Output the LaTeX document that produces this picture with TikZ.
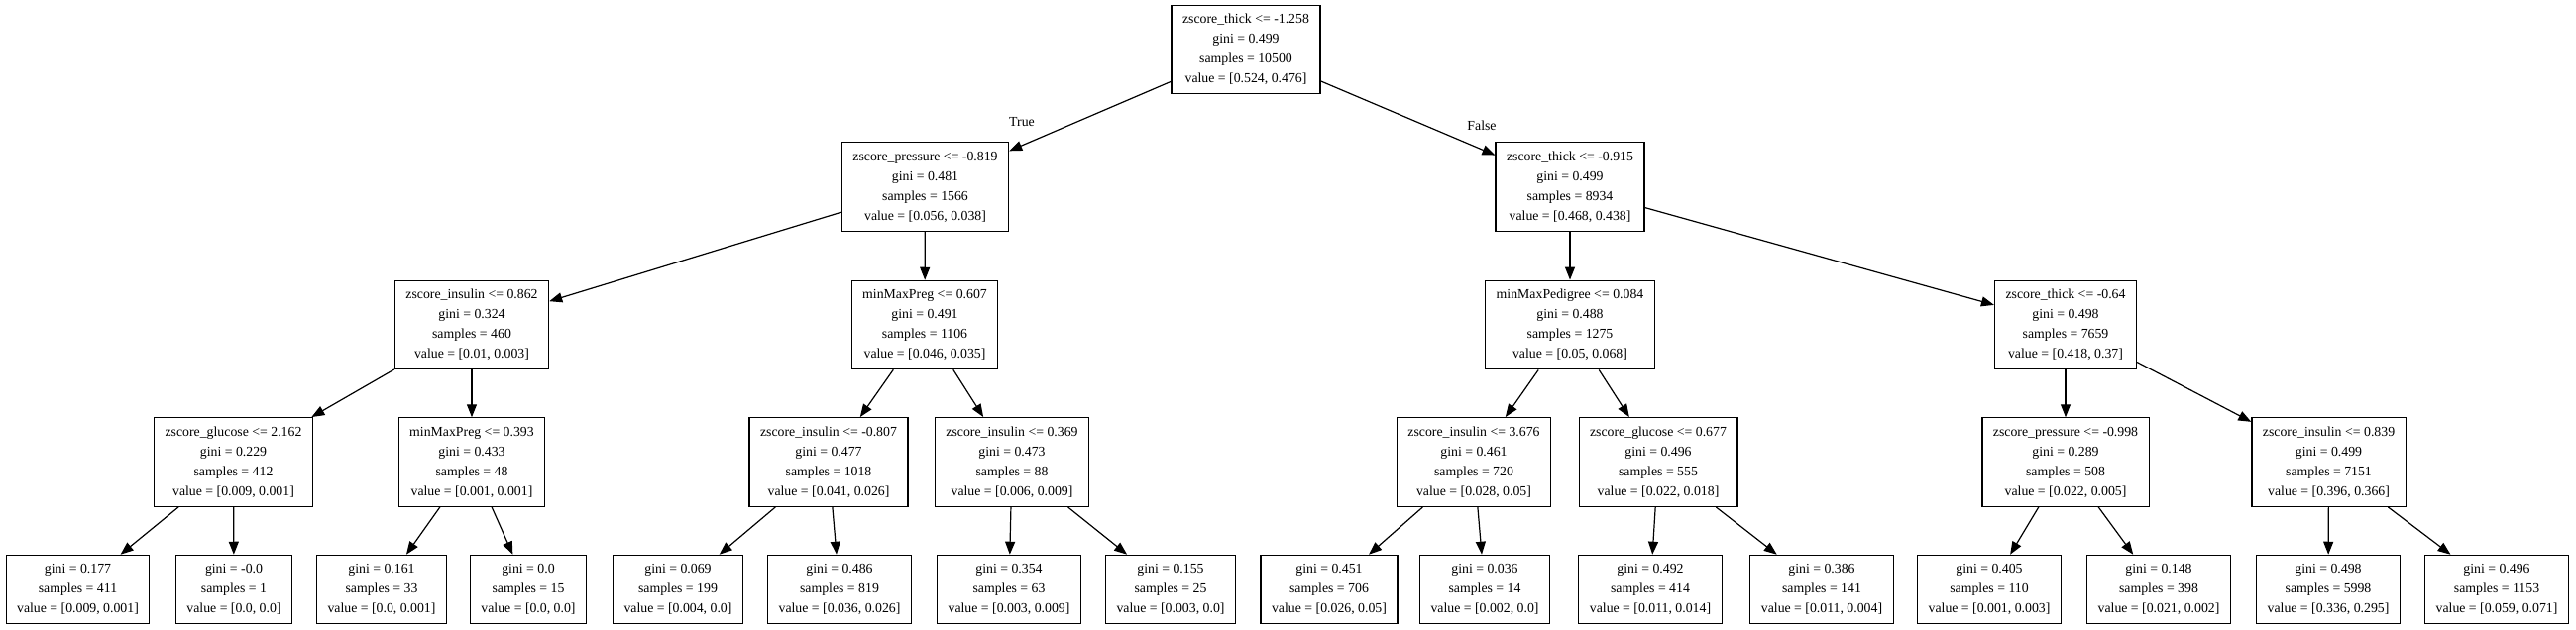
\documentclass[tikz,border=0pt]{standalone}
\usepackage{fontspec}
\setmainfont{Liberation Serif}
\usetikzlibrary{arrows.meta}

\begin{document}
\begin{tikzpicture}[
    x=1pt, y=-1pt,
    % Split node style
    splitbox/.style={
        rectangle,
        draw=black,
        line width=1.2pt,
        fill=white,
        align=center,
        inner xsep=11pt,
        inner ysep=9pt,
        font=\fontsize{13.8}{20}\selectfont
    },
    % Leaf node style
    leafbox/.style={
        splitbox
    },
    % Arrow style
    arrow/.style={
        -{Triangle[length=13pt, width=10pt]},
        line width=1.2pt,
        black
    },
    % Edge label style
    edgelabel/.style={
        font=\fontsize{13.8}{20}\selectfont
    }
]

\useasboundingbox (0,0) rectangle (2599,636);

% === Root ===
\node[splitbox] (root) at (1257,50) {zscore\_thick <= -1.258\\gini = 0.499\\samples = 10500\\value = [0.524, 0.476]};

% === Level 1 ===
\node[splitbox] (pressL) at (933.5,188.5) {zscore\_pressure <= -0.819\\gini = 0.481\\samples = 1566\\value = [0.056, 0.038]};
\node[splitbox] (thickR) at (1584,188.5) {zscore\_thick <= -0.915\\gini = 0.499\\samples = 8934\\value = [0.468, 0.438]};

% === Level 2 ===
\node[splitbox] (insulinA) at (476,328) {zscore\_insulin <= 0.862\\gini = 0.324\\samples = 460\\value = [0.01, 0.003]};
\node[splitbox] (pregA) at (933,328) {minMaxPreg <= 0.607\\gini = 0.491\\samples = 1106\\value = [0.046, 0.035]};
\node[splitbox] (pedigree) at (1584,328) {minMaxPedigree <= 0.084\\gini = 0.488\\samples = 1275\\value = [0.05, 0.068]};
\node[splitbox] (thickC) at (2084,328) {zscore\_thick <= -0.64\\gini = 0.498\\samples = 7659\\value = [0.418, 0.37]};

% === Level 3 ===
\node[splitbox] (glucoseA) at (235.5,466.5) {zscore\_glucose <= 2.162\\gini = 0.229\\samples = 412\\value = [0.009, 0.001]};
\node[splitbox] (pregB) at (476,466.5) {minMaxPreg <= 0.393\\gini = 0.433\\samples = 48\\value = [0.001, 0.001]};
\node[splitbox] (insulinB) at (836,466.5) {zscore\_insulin <= -0.807\\gini = 0.477\\samples = 1018\\value = [0.041, 0.026]};
\node[splitbox] (insulinC) at (1021,466.5) {zscore\_insulin <= 0.369\\gini = 0.473\\samples = 88\\value = [0.006, 0.009]};
\node[splitbox] (insulinD) at (1487,466.5) {zscore\_insulin <= 3.676\\gini = 0.461\\samples = 720\\value = [0.028, 0.05]};
\node[splitbox] (glucoseB) at (1673,466.5) {zscore\_glucose <= 0.677\\gini = 0.496\\samples = 555\\value = [0.022, 0.018]};
\node[splitbox] (pressB) at (2084,466.5) {zscore\_pressure <= -0.998\\gini = 0.289\\samples = 508\\value = [0.022, 0.005]};
\node[splitbox] (insulinE) at (2349.5,466.5) {zscore\_insulin <= 0.839\\gini = 0.499\\samples = 7151\\value = [0.396, 0.366]};

% === Leaves ===
\node[leafbox] (leaf1) at (78.5,595) {gini = 0.177\\samples = 411\\value = [0.009, 0.001]};
\node[leafbox] (leaf2) at (236,595) {gini = -0.0\\samples = 1\\value = [0.0, 0.0]};
\node[leafbox] (leaf3) at (385,595) {gini = 0.161\\samples = 33\\value = [0.0, 0.001]};
\node[leafbox] (leaf4) at (533,595) {gini = 0.0\\samples = 15\\value = [0.0, 0.0]};
\node[leafbox] (leaf5) at (684,595) {gini = 0.069\\samples = 199\\value = [0.004, 0.0]};
\node[leafbox] (leaf6) at (847,595) {gini = 0.486\\samples = 819\\value = [0.036, 0.026]};
\node[leafbox] (leaf7) at (1018,595) {gini = 0.354\\samples = 63\\value = [0.003, 0.009]};
\node[leafbox] (leaf8) at (1181,595) {gini = 0.155\\samples = 25\\value = [0.003, 0.0]};
\node[leafbox] (leaf9) at (1341,595) {gini = 0.451\\samples = 706\\value = [0.026, 0.05]};
\node[leafbox] (leaf10) at (1498,595) {gini = 0.036\\samples = 14\\value = [0.002, 0.0]};
\node[leafbox] (leaf11) at (1665,595) {gini = 0.492\\samples = 414\\value = [0.011, 0.014]};
\node[leafbox] (leaf12) at (1838,595) {gini = 0.386\\samples = 141\\value = [0.011, 0.004]};
\node[leafbox] (leaf13) at (2007,595) {gini = 0.405\\samples = 110\\value = [0.001, 0.003]};
\node[leafbox] (leaf14) at (2178,595) {gini = 0.148\\samples = 398\\value = [0.021, 0.002]};
\node[leafbox] (leaf15) at (2349,595) {gini = 0.498\\samples = 5998\\value = [0.336, 0.295]};
\node[leafbox] (leaf16) at (2519,595) {gini = 0.496\\samples = 1153\\value = [0.059, 0.071]};

% === Arrows from root ===
\draw[arrow] (root) -- (pressL);
\draw[arrow] (root) -- (thickR);
\node[edgelabel] (truelab) at (1031,123) {True};
\node[edgelabel] (falselab) at (1495,127) {False};

% === Arrows to level 2 ===
\draw[arrow] (pressL) -- (insulinA);
\draw[arrow] (pressL) -- (pregA);
\draw[arrow] (thickR) -- (pedigree);
\draw[arrow] (thickR) -- (thickC);

% === Arrows to level 3 ===
\draw[arrow] (insulinA) -- (glucoseA);
\draw[arrow] (insulinA) -- (pregB);
\draw[arrow] (pregA) -- (insulinB);
\draw[arrow] (pregA) -- (insulinC);
\draw[arrow] (pedigree) -- (insulinD);
\draw[arrow] (pedigree) -- (glucoseB);
\draw[arrow] (thickC) -- (pressB);
\draw[arrow] (thickC) -- (insulinE);

% === Arrows to leaves ===
\draw[arrow] (glucoseA) -- (leaf1);
\draw[arrow] (glucoseA) -- (leaf2);
\draw[arrow] (pregB) -- (leaf3);
\draw[arrow] (pregB) -- (leaf4);
\draw[arrow] (insulinB) -- (leaf5);
\draw[arrow] (insulinB) -- (leaf6);
\draw[arrow] (insulinC) -- (leaf7);
\draw[arrow] (insulinC) -- (leaf8);
\draw[arrow] (insulinD) -- (leaf9);
\draw[arrow] (insulinD) -- (leaf10);
\draw[arrow] (glucoseB) -- (leaf11);
\draw[arrow] (glucoseB) -- (leaf12);
\draw[arrow] (pressB) -- (leaf13);
\draw[arrow] (pressB) -- (leaf14);
\draw[arrow] (insulinE) -- (leaf15);
\draw[arrow] (insulinE) -- (leaf16);

\end{tikzpicture}
\end{document}
